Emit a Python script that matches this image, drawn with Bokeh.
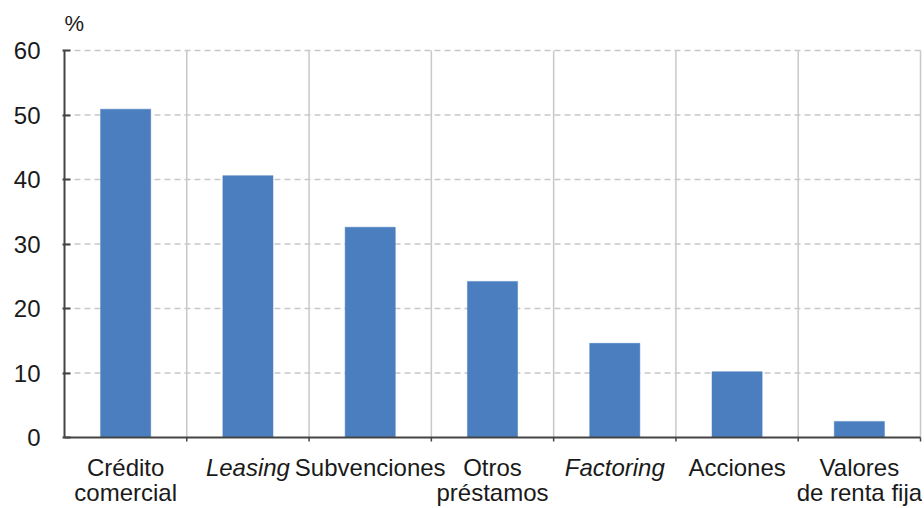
from bokeh.plotting import figure
from bokeh.models import Range1d, FixedTicker, ColumnDataSource
from bokeh.core.properties import value
from bokeh.embed import file_html
from bokeh.resources import INLINE

# Data
categories = ["Crédito comercial", "Leasing", "Subvenciones", "Otros préstamos",
              "Factoring", "Acciones", "Valores de renta fija"]
label_lines = [["Crédito", "comercial"], ["Leasing"], ["Subvenciones"], ["Otros", "préstamos"],
               ["Factoring"], ["Acciones"], ["Valores", "de renta fija"]]
italic = [False, True, False, False, True, False, False]
values = [50.9, 40.6, 32.6, 24.2, 14.6, 10.2, 2.5]
y_ticks = [0, 10, 20, 30, 40, 50, 60]
unit_label = "%"

FONT = "Liberation Sans"
TXT = "#1a1a1a"
BLUE = "#4a7ebf"
GRID = "#c8c8c8"
AXIS = "#444444"

n = len(categories)
xs = [i + 0.5 for i in range(n)]
y_top = y_ticks[-1]

W, H = 922, 506
LEFT = 62
PXX = (920 - 64) / n          # px per x unit
PXY = (437 - 50) / y_top       # px per y unit
x0 = -(64 - LEFT) / PXX
x1 = x0 + (W - LEFT) / PXX
y0 = -(H - 437) / PXY
y1 = y_top + 50 / PXY

p = figure(width=W, height=H, output_backend="svg", toolbar_location=None,
           x_range=Range1d(x0, x1), y_range=Range1d(y0, y1),
           x_axis_location=None,
           min_border_left=LEFT, min_border_right=0, min_border_top=0, min_border_bottom=0)
p.outline_line_color = None
p.background_fill_color = "white"
p.border_fill_color = "white"

# horizontal dashed grid (drawn only within the plot body)
gy = y_ticks[1:]
p.segment(x0=[0] * len(gy), x1=[n] * len(gy), y0=gy, y1=gy,
          line_color=GRID, line_width=1.5, line_dash="6 4")
# vertical separators
sx = list(range(1, n + 1))
p.segment(x0=sx, x1=sx, y0=[0] * n, y1=[y_top] * n, line_color=GRID, line_width=1.5)
p.xgrid.visible = False
p.ygrid.visible = False

src = ColumnDataSource(dict(x=xs, top=values))
p.vbar(x="x", top="top", bottom=0, width=0.41, source=src,
       fill_color=BLUE, line_color=BLUE, line_width=0.5)

# axes lines
p.segment(x0=[0, 0], x1=[0, n], y0=[0, 0], y1=[y_top, 0], line_color=AXIS, line_width=2)
# small ticks below the baseline at separators
p.segment(x0=sx, x1=sx, y0=[0] * n, y1=[-4 / PXY] * n, line_color=AXIS, line_width=1.5)

# y axis (labels and inward ticks)
ya = p.yaxis[0]
ya.ticker = FixedTicker(ticks=y_ticks)
ya.axis_line_color = None
ya.major_tick_in = 8
ya.major_tick_out = 0
ya.major_tick_line_color = AXIS
ya.major_tick_line_width = 2
ya.minor_tick_line_color = None
ya.major_label_standoff = 22
ya.major_label_text_font = FONT
ya.major_label_text_font_size = "24px"
ya.major_label_text_color = TXT

# category labels
tx, ty, tt, ts = [], [], [], []
for x, lines, it in zip(xs, label_lines, italic):
    for j, t in enumerate(lines):
        tx.append(x)
        ty.append(-(30 + 25 * j) / PXY)
        tt.append(t)
        ts.append("italic" if it else "normal")
p.text(x="x", y="y", text="t", source=ColumnDataSource(dict(x=tx, y=ty, t=tt, s=ts)),
       text_align="center", text_baseline="alphabetic", text_font=value(FONT),
       text_font_size="24px", text_color=TXT, text_font_style="s")

p.text(x=[0], y=[y_top + 27 / PXY], text=[unit_label], text_align="left",
       text_baseline="alphabetic", text_font=value(FONT), text_font_size="22px",
       text_color=TXT)

open("out.html", "w").write(file_html(p, INLINE))
